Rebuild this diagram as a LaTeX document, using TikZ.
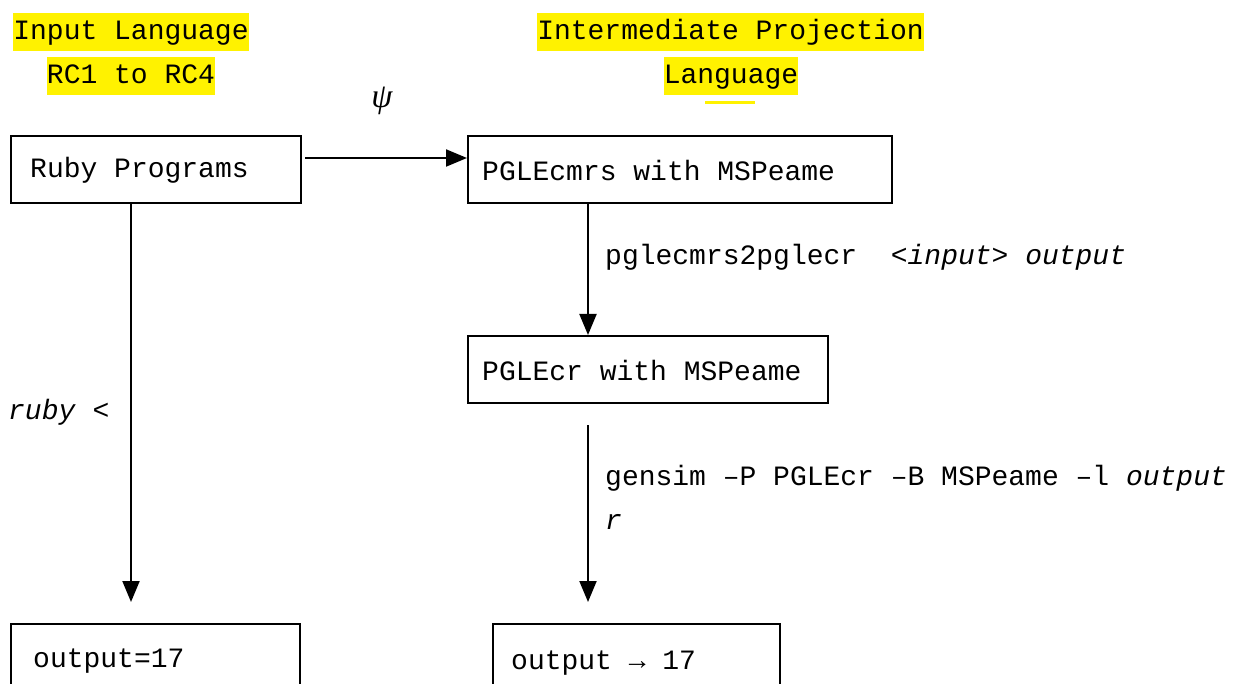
\documentclass[tikz,border=0pt]{standalone}
\usepackage{fontspec}
\setmainfont[WordSpace={1,0,0}]{Liberation Mono}
\newfontfamily\psifont{Liberation Serif}
\usetikzlibrary{arrows.meta,calc}
\begin{document}
\begin{tikzpicture}[x=1pt,y=-1pt,
  txt/.style={font=\fontsize{28}{32}\selectfont, inner sep=0pt},
  hl/.style={txt, fill=yellow, minimum height=38pt, text height=21pt, text depth=6pt},
  box/.style={draw=black, line width=2pt, inner sep=0pt, anchor=north west},
  lbl/.style={txt, anchor=west},
  arr/.style={line width=2pt, -{Triangle[length=21pt,width=17pt]}}
]
\useasboundingbox (0,0) rectangle (1236,684);
% headers
\node[hl] (h1) at (131,32) {Input Language};
\node[hl] (h2) at (131,76) {RC1 to RC4};
\node[hl] (h3) at (730.5,32) {Intermediate Projection};
\node[hl] (h4) at (731,76) {Language};
\fill[yellow] (705,101) rectangle (755,104);
\node[inner sep=0pt, font=\psifont\itshape\fontsize{34}{36}\selectfont] (psi) at (382,101) {ψ};
% boxes
\node[box, minimum width=290pt, minimum height=67pt] (rp) at (10,135) {};
\node[box, minimum width=424pt, minimum height=67pt] (pc) at (467,135) {};
\node[box, minimum width=360pt, minimum height=67pt] (pcr) at (467,335) {};
\node[box, minimum width=289pt, minimum height=80pt] (ob1) at (10,623) {};
\node[box, minimum width=287pt, minimum height=80pt] (ob2) at (492,623) {};
% box texts
\node[lbl] (trp) at ([xshift=20pt,yshift=-1pt]rp.west) {Ruby Programs};
\node[lbl] (tpc) at ([xshift=15pt,yshift=-1pt]pc.west) {PGLEcmrs with MSPeame};
\node[lbl] (tpcr) at ([xshift=15pt,yshift=-1pt]pcr.west) {PGLEcr with MSPeame};
\node[lbl] (tob1) at (33,661) {output=17};
\node[lbl] (tob2) at (511,663) {output → 17};
% labels
\node[lbl] (l1) at (605,257) {pglecmrs2pglecr\ \ <\textit{input}> \textit{output}};
\node[lbl] (l2) at (605,478) {gensim –P PGLEcr –B MSPeame –l \textit{output}};
\node[lbl] (l3) at (605,522) {\textit{r}};
\node[lbl] (l4) at (8,412) {\textit{ruby} <};
% connectors
\coordinate (lx) at (131,0);
\coordinate (mx) at (588,0);
\draw[arr, shorten <=3pt] ([yshift=11.5pt]rp.east) -- ([yshift=11.5pt]pc.west);
\draw[arr, shorten >=21pt] (rp.south -| lx) -- (ob1.north -| lx);
\draw[arr] (pc.south -| mx) -- (pcr.north -| mx);
\draw[arr, shorten <=21pt, shorten >=21pt] (pcr.south -| mx) -- (ob2.north -| mx);
\end{tikzpicture}
\end{document}
